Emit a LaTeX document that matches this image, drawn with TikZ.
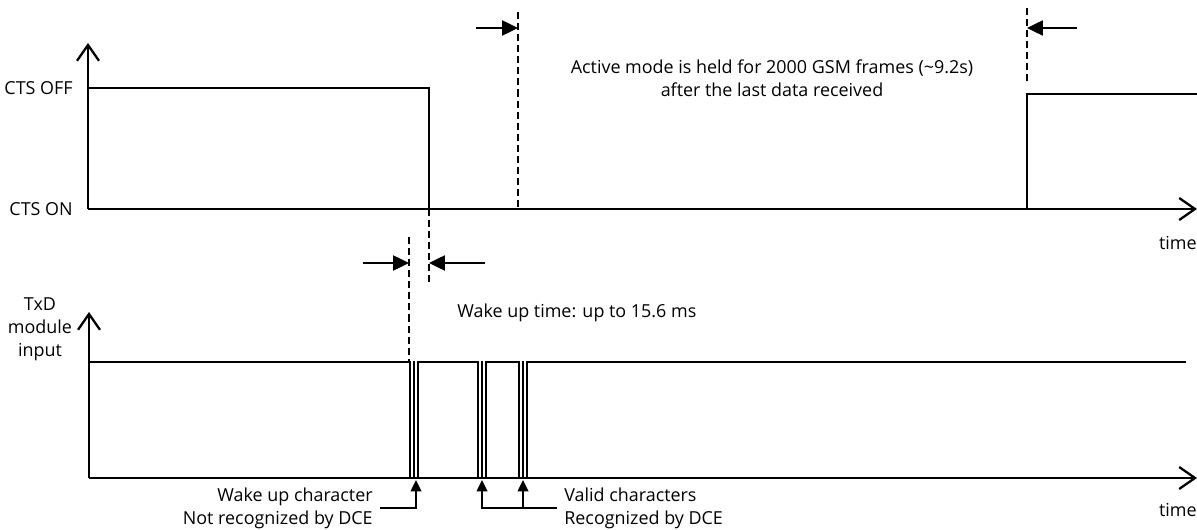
\documentclass[tikz,border=0pt]{standalone}
\usepackage{fontspec}
\setmainfont{Open Sans}
\usetikzlibrary{arrows.meta}
\tikzstyle{lbl} = [inner sep=0pt, font=\fontsize{10.2}{13}\selectfont]
\tikzstyle{axis} = [line width=1.3pt, -{Straight Barb[length=9pt,width=12.5pt,line width=1.3pt]}]
\tikzstyle{signal} = [line width=0.75pt, line cap=rect]
\tikzstyle{marker} = [line width=0.75pt, dash pattern=on 4pt off 2.3pt]
\tikzstyle{measure} = [line width=1.2pt, -{Triangle[length=9pt,width=8.5pt]}]
\tikzstyle{pointer} = [line width=1.2pt, -{Triangle[length=6.5pt,width=6pt]}]

\begin{document}
\begin{tikzpicture}[x=0.02cm, y=-0.02cm]
\useasboundingbox (0,0) rectangle (1197,530);

% CTS chart
\coordinate (ctsorigin) at (88,209);
\coordinate (ctstop) at (88,43);
\coordinate (ctsend) at (1197,209);
\node (ctsoff) [lbl, anchor=east] at (73,88) {CTS OFF};
\node (ctson) [lbl, anchor=east] at (73,209) {CTS ON};
\node (ctstime) [lbl, anchor=east] at (1197,243) {time};
\node (holdtext) [lbl, align=center] at (772,78) {Active mode is held for 2000 GSM frames (\textasciitilde9.2s)\\after the last data received};

\draw [axis] (ctsorigin) -- (ctstop);
\draw [axis] (ctsorigin) -- (ctsend);
\draw [signal] (88,88) -- (429,88) -- (429,209);
\draw [signal] (1027,209) -- (1027,94) -- (1196,94);

\draw [marker] (518,12) -- (518,209);
\draw [marker] (1027,8) -- (1027,82);
\draw [measure] (476,28) -- (518,28);
\draw [measure] (1077,28) -- (1027,28);

% TxD chart
\coordinate (txdorigin) at (89,478);
\coordinate (txdtop) at (89,312);
\coordinate (txdend) at (1197,478);
\node (txdlbl) [lbl, align=center] at (40,329) {TxD\\module\\input};
\node (txdtime) [lbl, anchor=east] at (1197,510) {time};
\node (waketext) [lbl, anchor=west] at (457,313) {Wake up time: up to 15.6 ms};

\draw [axis] (txdorigin) -- (txdtop);
\draw [axis] (txdorigin) -- (txdend);
\draw [signal] (89,362) -- (410,362);
\draw [signal] (418,362) -- (478,362);
\draw [signal] (486,362) -- (519,362);
\draw [signal] (527,362) -- (1185,362);
\foreach \a in {410,478,519}
  \foreach \d in {0,4,8}
    \draw [signal] (\a+\d,362) -- (\a+\d,478);

\draw [marker] (429,209) -- (429,282);
\draw [marker] (409,237) -- (409,362);
\draw [measure] (363,263) -- (409,263);
\draw [measure] (485,263) -- (429,263);

% character pointers
\node (wakechar) [lbl, anchor=east, align=right] at (373,508) {Wake up character\\Not recognized by DCE};
\node (validchar) [lbl, anchor=west, align=left] at (564,508) {Valid characters\\Recognized by DCE};
\draw [pointer] (380,508) -- (416,508) -- (416,480);
\draw [pointer] (557,508) -- (482,508) -- (482,480);
\draw [pointer] (523,508) -- (523,480);

\end{tikzpicture}
\end{document}
